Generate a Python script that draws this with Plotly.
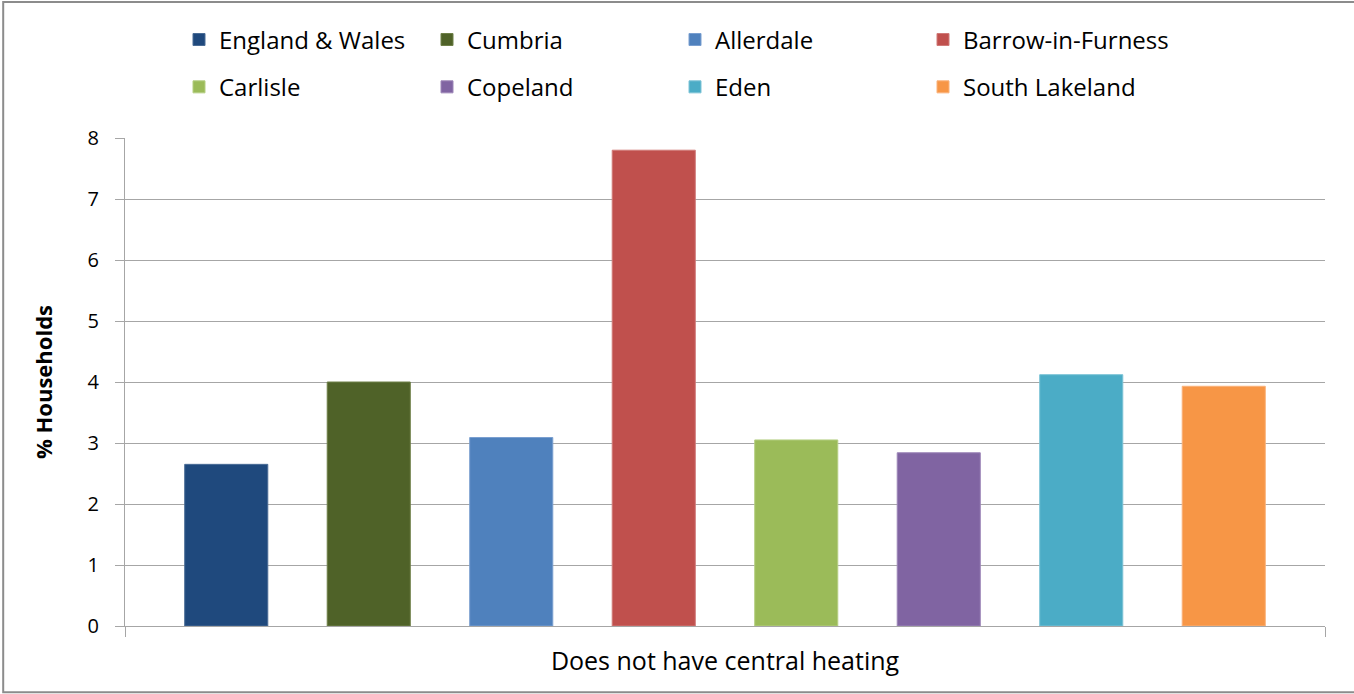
import plotly.graph_objects as go

# Share of households without central heating, by area
areas = ["England & Wales", "Cumbria", "Allerdale", "Barrow-in-Furness",
         "Carlisle", "Copeland", "Eden", "South Lakeland"]
pct_households = [2.65, 4.0, 3.09, 7.8, 3.05, 2.84, 4.12, 3.93]
bar_colors = ["#1F497D", "#4F6228", "#4F81BD", "#C0504D",
              "#9BBB59", "#8064A2", "#4BACC6", "#F79646"]
edge_colors = ["#4a6c96", "#6f8048", "#7a9fd0", "#d07a78",
               "#b5cf82", "#9d86b8", "#7cc3d6", "#fab27a"]
category = ["Does not have central heating"]
y_ticks = [0, 1, 2, 3, 4, 5, 6, 7, 8]

FONT = "Open Sans"
GRID = "#a6a6a6"

fig = go.Figure()
for i, (name, val, col, edge) in enumerate(zip(areas, pct_households, bar_colors, edge_colors)):
    fig.add_trace(go.Bar(
        x=category, y=[val], name=name,
        marker=dict(color=col, line=dict(color=edge, width=1)),
        legend="legend" if i < 4 else "legend2",
    ))

legend_common = dict(
    orientation="h", xanchor="left", yanchor="middle",
    font=dict(family=FONT, size=24, color="#000000"),
    entrywidth=203, entrywidthmode="pixels",
    bgcolor="rgba(0,0,0,0)", traceorder="normal",
)

fig.update_layout(
    width=1354, height=694,
    margin=dict(l=125, r=29, t=138, b=68),
    paper_bgcolor="white", plot_bgcolor="white",
    barmode="group", bargap=0.05, bargroupgap=0.417,
    font=dict(family=FONT, size=20, color="#000000"),
    showlegend=True,
    legend=dict(x=0.045, y=1.201, **legend_common),
    legend2=dict(x=0.045, y=1.104, **legend_common),
    xaxis=dict(
        showline=True, linecolor=GRID, linewidth=1,
        ticks="outside", tickson="boundaries", ticklen=10, tickcolor=GRID,
        showgrid=False, showticklabels=False,
        title=dict(text=category[0], font=dict(family=FONT, size=25), standoff=26),
    ),
    yaxis=dict(
        range=[0, 8], tickvals=y_ticks,
        showline=True, linecolor=GRID, linewidth=1,
        ticks="outside", ticklen=9, tickcolor=GRID,
        ticklabelstandoff=12,
        showgrid=True, gridcolor=GRID, gridwidth=1,
        tickfont=dict(family=FONT, size=20),
        title=dict(text="<b>% Households</b>", font=dict(family=FONT, size=22), standoff=28),
        zeroline=False,
    ),
    shapes=[dict(type="rect", xref="paper", yref="paper",
                 x0=-0.1015, x1=1.05, y0=-0.1357, y1=1.2787,
                 line=dict(color="#8c8c8c", width=2), fillcolor="rgba(0,0,0,0)",
                 layer="below")],
)

fig.write_html("out.html")
